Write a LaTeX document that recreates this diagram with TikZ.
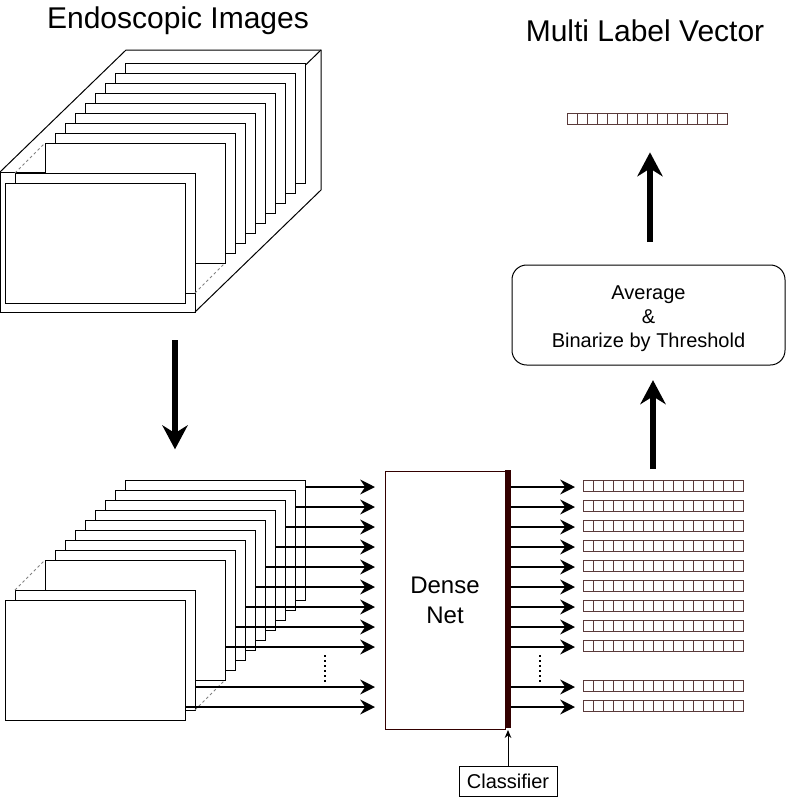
\documentclass[tikz,border=0pt]{standalone}
\usepackage{fontspec}
\setmainfont{Liberation Sans}
\usetikzlibrary{arrows.meta}
\definecolor{netred}{HTML}{330000}
\definecolor{cellline}{HTML}{5A3A3A}

\begin{document}
\begin{tikzpicture}[
  x=0.75pt, y=-0.75pt,
  frame/.style={rectangle, draw, fill=white, line width=0.75pt, minimum width=135pt, minimum height=90pt, inner sep=0pt, outer sep=0pt, anchor=north west},
  vector/.style={rectangle, draw=cellline, line width=0.6pt, minimum width=120pt, minimum height=8pt, inner sep=0pt, outer sep=0pt,
    path picture={\foreach \k in {1,...,15} \draw[cellline, line width=0.6pt] ([xshift=\k*7.5pt]path picture bounding box.north west) -- ([xshift=\k*7.5pt]path picture bounding box.south west);}},
  flow/.style={-{Stealth[length=11pt,width=11pt]}, line width=2.2pt},
  bigflow/.style={-{Stealth[length=18pt,width=19pt]}, line width=4pt},
  gap/.style={dash pattern=on 2pt off 2pt, gray, line width=0.75pt},
  title/.style={font=\fontsize{22.5}{27}\selectfont},
  font=\fontsize{15}{18}\selectfont
]
\useasboundingbox (0,0) rectangle (786,797);

\node[title] (imgtitle) at (178,21) {Endoscopic Images};
\node[title] (vectitle) at (645,31) {Multi Label Vector};

% image volume
\draw[line width=0.75pt] (0,172) rectangle (195,312);
\draw[line width=0.75pt] (0,172) -- (126,50) -- (321,50) -- (321,190) -- (195,312);
\draw[line width=0.75pt] (195,172) -- (321,50);
\foreach \i in {1,...,9}
  \node[frame] (t\i) at ({135-10*\i},{53+10*\i}) {};
\node[frame] (t10) at (15,173) {};
\node[frame] (t11) at (5,183) {};
\draw[gap] (t10.north west) -- (t9.north west);
\draw[gap] (t10.south east) -- (t9.south east);

% single images
\foreach \i in {1,...,9}
  \node[frame] (f\i) at ({135-10*\i},{470+10*\i}) {};
\node[frame] (f10) at (15,590) {};
\node[frame] (f11) at (5,600) {};
\draw[gap] (f10.north west) -- (f9.north west);
\draw[gap] (f10.south east) -- (f9.south east);

\coordinate (down) at (175,340);
\draw[bigflow, shorten >=23pt] (down) -- (down |- f1.north);

\node[draw=netred, line width=0.75pt, minimum width=90pt, minimum height=193.5pt, inner sep=0pt, outer sep=0pt, align=center, font=\fontsize{18}{22.5}\selectfont] (dense) at (445,600) {Dense\\Net};
\node[fill=netred, minimum width=4.5pt, minimum height=193.5pt, inner sep=0pt, outer sep=0pt] (clf) at (508,599) {};

\foreach \i/\y in {1/487,2/507,3/527,4/547,5/567,6/587,7/607,8/627,9/647,10/687,11/707} {
  \coordinate (in\i) at (375,\y);
  \coordinate (out\i) at (575,\y);
  \draw[flow] (f\i.east |- in\i) -- (in\i);
  \draw[flow] (clf.east |- out\i) -- (out\i);
  \node[vector] (v\i) at (663,\y-1) {};
}
\draw[line width=1pt, dash pattern=on 1.2pt off 2.6pt] (325,655) -- (325,683);
\draw[line width=1pt, dash pattern=on 1.2pt off 2.6pt] (540,655) -- (540,683);

\node[draw, line width=0.75pt, minimum width=73.5pt, minimum height=22.5pt, inner sep=0pt] (clfbox) at (508,781) {Classifier};
\draw[-{Stealth[length=6pt,width=5pt]}, line width=0.75pt, shorten >=1.5pt] (clfbox.north) -- (clfbox.north |- clf.south);

\node[draw, line width=0.75pt, rounded corners=11pt, minimum width=204.75pt, minimum height=75pt] (avg) at (648.5,315) {};
\node[align=center] (avgtext) at ([yshift=-3pt]avg.center) {Average\\\&\\Binarize by Threshold};
\coordinate (up1) at (653,469);
\draw[bigflow, shorten >=11pt] (up1) -- (up1 |- avg.south);

\node[vector] (mlv) at (647,119) {};
\coordinate (up2) at (650,242);
\draw[bigflow, shorten >=21pt] (up2) -- (up2 |- mlv.south);
\end{tikzpicture}
\end{document}
